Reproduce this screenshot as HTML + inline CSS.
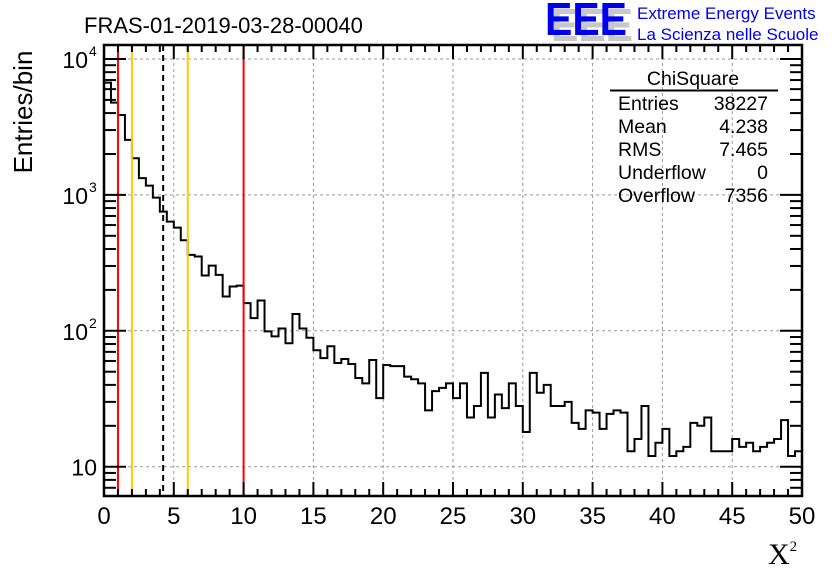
<!DOCTYPE html>
<html><head><meta charset="utf-8"><style>
html,body{margin:0;padding:0;background:#fff;}
svg{display:block;font-family:"Liberation Sans",sans-serif;}
</style></head><body>
<svg id="chart" width="836" height="572" viewBox="0 0 836 572">
<rect width="836" height="572" fill="#fff"/>
<text x="84" y="33" font-size="22" fill="#000">FRAS-01-2019-03-28-00040</text>
<g>
<text x="551" y="41" font-size="46" font-weight="bold" fill="#c8c8c8" textLength="82" lengthAdjust="spacingAndGlyphs">EEE</text>
<text x="545" y="35" font-size="46" font-weight="bold" fill="#0000ee" textLength="82" lengthAdjust="spacingAndGlyphs">EEE</text>
<text x="637" y="19" font-size="17" fill="#0000ee">Extreme Energy Events</text>
<text x="637" y="40" font-size="17" fill="#0000ee">La Scienza nelle Scuole</text>
</g>
<g id="grid"></g>
<g id="marks"></g>
<g id="axes"></g>
<g font-size="19.5" fill="#000">
<text x="693" y="85" text-anchor="middle">ChiSquare</text>
<line x1="610" y1="90.5" x2="778" y2="90.5" stroke="#000" stroke-width="2"/>
<text x="618" y="110">Entries</text><text x="768" y="110" text-anchor="end">38227</text>
<text x="618" y="133">Mean</text><text x="768" y="133" text-anchor="end">4.238</text>
<text x="618" y="156">RMS</text><text x="768" y="156" text-anchor="end">7.465</text>
<text x="618" y="179">Underflow</text><text x="768" y="179" text-anchor="end">0</text>
<text x="618" y="202">Overflow</text><text x="768" y="202" text-anchor="end">7356</text>
</g>
<text x="0" y="0" font-size="26" transform="translate(32,112) rotate(-90)" text-anchor="middle">Entries/bin</text>
<text x="768" y="564" font-size="30" font-family="Liberation Serif, serif">X<tspan font-size="15" dy="-13">2</tspan></text>
</svg>
<script>
const counts = [6700,4770,3870,2540,1860,1330,1170,955,754,636,
575,464,362,352,255,302,258,179,212,215,
160,124,167,99,91,104,81,133,104,89,
72,63,77,58,62,57,45,41,61,32,
56,55,55,46,44,41,26,36,38,41,
32,41,23,28,49,23,34,27,41,28,
18,49,35,40,28,28,30,21,19,26,
25,19,24.5,26,25,13,16,28,12,15,
19,12,13,14,21,20,23,13,13,13,
16,14,15,13,14,15,16,22,12,13];
const xTicks = [0,5,10,15,20,25,30,35,40,45,50];
const yDecades = [10,100,1000,10000];
const yDecadeLabels = ["10","10","10","10"];
const yDecadeExp = ["","2","3","4"];
const redLines = [1,10];
const yellowLines = [2,6];
const meanLine = [4.238];

const L=104,R=802,T=45,B=496;
const xMin=0,xMax=50,binW=0.5;
const yMinLog=Math.log10(10)-(B-466.7)/136, yMaxLog=4+(59-T)/136;
const X=v=>L+(v-xMin)/(xMax-xMin)*(R-L);
const Y=v=>B-(Math.log10(v)-yMinLog)/(yMaxLog-yMinLog)*(B-T);
const NS="http://www.w3.org/2000/svg";
function mk(tag,attrs,parent){const e=document.createElementNS(NS,tag);for(const k in attrs)e.setAttribute(k,attrs[k]);parent.appendChild(e);return e;}
const grid=document.getElementById('grid'),marks=document.getElementById('marks'),axes=document.getElementById('axes');

xTicks.forEach(t=>{if(t>xMin&&t<xMax){const g=mk('line',{x1:X(t),x2:X(t),y1:T,y2:B,stroke:'#999','stroke-width':1,'stroke-dasharray':'3,3'},grid);

}});
yDecades.forEach(d=>{const g=mk('line',{x1:L,x2:R,y1:Y(d),y2:Y(d),stroke:'#999','stroke-width':1,'stroke-dasharray':'3,3'},grid);

});

let d='M'+X(0)+','+B;
counts.forEach((c,i)=>{const y=Math.max(T,Math.min(B,Y(c)));d+=' L'+X(i*binW)+','+y+' L'+X((i+1)*binW)+','+y;});
d+=' L'+X(counts.length*binW)+','+B;
const hp=mk('path',{d:d,fill:'none',stroke:'#000','stroke-width':2},marks);



function vline(v,col,dash,name){const l=mk('line',{x1:X(v),x2:X(v),y1:T,y2:B,stroke:col,'stroke-width':2},marks);if(dash)l.setAttribute('stroke-dasharray',dash);

}
redLines.forEach(v=>vline(v,'#ff0000',null,'red-threshold-line'));
yellowLines.forEach(v=>vline(v,'#ffcc00',null,'yellow-threshold-line'));
meanLine.forEach(v=>vline(v,'#000',"6,4",'mean-line'));

const fr=mk('rect',{x:L,y:T,width:R-L,height:B-T,fill:'none',stroke:'#000','stroke-width':2.5},axes);


for(let v=xMin;v<=xMax+1e-9;v+=1){const major=(v%5===0);const len=major?14:7;
mk('line',{x1:X(v),x2:X(v),y1:B,y2:B-len,stroke:'#000','stroke-width':2},axes);
mk('line',{x1:X(v),x2:X(v),y1:T,y2:T+len,stroke:'#000','stroke-width':2},axes);}
xTicks.forEach(t=>{const tx=mk('text',{x:X(t),y:524,'font-size':24,'text-anchor':'middle'},axes);tx.textContent=t;

});
for(let e=0;e<=4;e++){for(let m=1;m<=9;m++){const v=m*Math.pow(10,e);if(Math.log10(v)<yMinLog||Math.log10(v)>yMaxLog)continue;const len=(m===1)?22:12;
mk('line',{x1:L,x2:L+len,y1:Y(v),y2:Y(v),stroke:'#000','stroke-width':2},axes);
mk('line',{x1:R,x2:R-len,y1:Y(v),y2:Y(v),stroke:'#000','stroke-width':2},axes);}}
yDecades.forEach((dv,i)=>{const tx=mk('text',{x:i===0?97:88,y:Y(dv)+9,'font-size':23,'text-anchor':'end'},axes);tx.textContent=yDecadeLabels[i];


if(yDecadeExp[i]){const ex=mk('text',{x:89,y:Y(dv)-3,'font-size':14},axes);ex.textContent=yDecadeExp[i];

}});
</script>
</body></html>
